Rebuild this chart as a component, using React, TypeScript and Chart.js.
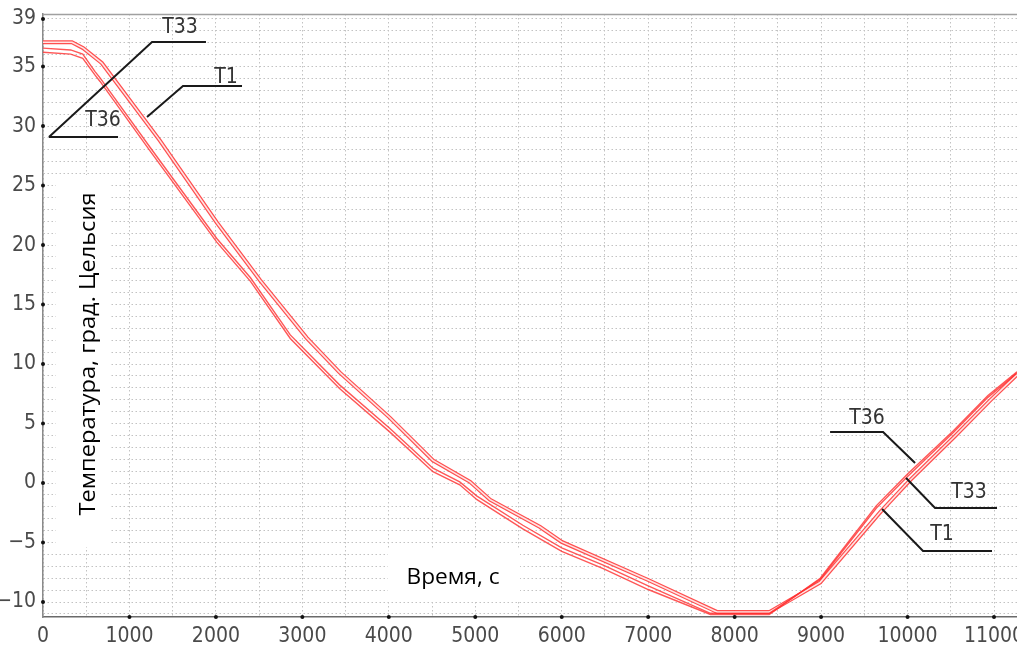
import React, { useEffect, useRef } from "react";
import { Chart, registerables } from "chart.js";

Chart.register(...registerables);

// ---- axis ranges / ticks ----
const xMin = 0;
const xMax = 11266;
const yMin = -11.26;
const yMax = 39.42;
const xLabelValues = [1000, 2000, 3000, 4000, 5000, 6000, 7000, 8000, 9000, 10000, 11000, 0];
const yLabelValues = [-10, -5, 0, 5, 10, 15, 20, 25, 30, 35, 39];

// ---- series (time, s / temperature, °C) ----
const t33Time = [0, 320, 460, 600, 660, 1240, 2010, 2400, 2860, 3430, 4010, 4510, 4820, 5020, 5550, 6000, 6480, 7000, 7720, 8400, 8990, 9640, 10000, 10530, 10930, 11266];
const t33Temp = [36.55, 36.4, 36.05, 34.6, 34.05, 28.2, 20.55, 17.25, 12.45, 8.25, 4.6, 1.25, 0.1, -1.1, -3.55, -5.45, -6.9, -8.65, -10.95, -10.95, -8.1, -2.1, 0.55, 4.25, 7.2, 9.25];

const t36Time = [0, 320, 460, 600, 660, 1240, 2010, 2400, 2860, 3430, 4010, 4510, 4820, 5020, 5550, 6000, 6480, 7000, 7720, 8400, 8990, 9640, 10000, 10530, 10930, 11266];
const t36Temp = [36.2, 36.05, 35.7, 34.3, 33.75, 27.9, 20.25, 16.95, 12.15, 7.95, 4.3, 0.95, -0.15, -1.4, -3.85, -5.75, -7.2, -8.95, -11.05, -11.05, -8.0, -1.9, 0.75, 4.4, 7.35, 9.35];

const t1Time = [0, 335, 465, 680, 1350, 2010, 2510, 3050, 3430, 4010, 4510, 4940, 5170, 5750, 6000, 7000, 7800, 8400, 8990, 9690, 10030, 10550, 10950, 11266];
const t1Temp = [37.05, 37.05, 36.55, 35.3, 28.8, 21.9, 17.05, 12.2, 9.3, 5.5, 1.9, 0.1, -1.4, -3.7, -4.95, -8.15, -10.85, -10.85, -8.35, -2.4, 0.25, 3.95, 6.9, 9.1];

// ---- texts ----
const yTitle = "Температура, град. Цельсия";
const xTitle = "Время, с";

// ---- callouts (leader lines) in data coordinates ----
const calloutNames = ["T33", "T36", "T1", "T36", "T33", "T1"];
const calloutPaths: number[][][] = [
  [[69, 29.08], [1261, 37.06], [1885, 37.06]],
  [[69, 29.08], [868, 29.08]],
  [[1203, 30.76], [1619, 33.36], [2302, 33.36]],
  [[9104, 4.29], [9717, 4.29], [10087, 1.68]],
  [[9983, 0.42], [10318, -2.1], [11035, -2.1]],
  [[9705, -2.18], [10179, -5.71], [10977, -5.71]],
];
const calloutLabelAt: number[][] = [
  [1585, 38.3],
  [694, 30.5],
  [2117, 34.1],
  [9532, 5.38],
  [10711, -0.76],
  [10399, -4.29],
];

const toPoints = (xs: number[], ys: number[]) => xs.map((x, i) => ({ x, y: ys[i] }));

const NARROW = "'Liberation Sans Narrow', 'DejaVu Sans Condensed', sans-serif";
const TITLE_FONT = "'Open Sans', 'Noto Sans', sans-serif";

const decorPlugin = {
  id: "decor",
  beforeDatasetsDraw(chart: any) {
    const { ctx, chartArea } = chart;
    ctx.save();
    ctx.strokeStyle = "#a0a0a0";
    ctx.lineWidth = 1.5;
    ctx.beginPath();
    ctx.moveTo(chartArea.left, chartArea.top + 0.5);
    ctx.lineTo(chartArea.right, chartArea.top + 0.5);
    ctx.stroke();
    ctx.restore();
  },
  afterDraw(chart: any) {
    const { ctx, chartArea, scales } = chart;
    const xs = scales.x;
    const ys = scales.y;
    ctx.save();
    // tick dots
    ctx.fillStyle = "#111";
    yLabelValues.forEach((v) => {
      ctx.beginPath();
      ctx.arc(chartArea.left, ys.getPixelForValue(v), 2, 0, Math.PI * 2);
      ctx.fill();
    });
    xLabelValues.forEach((v) => {
      if (v === 0) return;
      ctx.beginPath();
      ctx.arc(xs.getPixelForValue(v), chartArea.bottom, 2, 0, Math.PI * 2);
      ctx.fill();
    });

    // white boxes and axis titles
    ctx.fillStyle = "#ffffff";
    ctx.fillRect(56, 175, 54, 372);
    ctx.fillRect(388, 548, 132, 52);
    ctx.fillStyle = "#000";
    ctx.textAlign = "center";
    ctx.textBaseline = "middle";
    ctx.font = `22px ${TITLE_FONT}`;
    ctx.save();
    ctx.translate(453, 578);
    const wx = ctx.measureText(xTitle).width;
    ctx.scale(93 / wx, 1);
    ctx.fillText(xTitle, 0, 0);
    ctx.restore();
    ctx.save();
    ctx.translate(89, 354);
    ctx.rotate(-Math.PI / 2);
    const wy = ctx.measureText(yTitle).width;
    ctx.scale(323 / wy, 1);
    ctx.fillText(yTitle, 0, 0);
    ctx.restore();

    // callouts
    ctx.strokeStyle = "#1a1a1a";
    ctx.lineWidth = 2;
    calloutPaths.forEach((path) => {
      ctx.beginPath();
      path.forEach(([x, y], i) => {
        const px = xs.getPixelForValue(x);
        const py = ys.getPixelForValue(y);
        if (i === 0) ctx.moveTo(px, py);
        else ctx.lineTo(px, py);
      });
      ctx.stroke();
    });
    ctx.fillStyle = "#333";
    ctx.font = `21px ${NARROW}`;
    ctx.textAlign = "center";
    ctx.textBaseline = "middle";
    calloutNames.forEach((name, i) => {
      const [x, y] = calloutLabelAt[i];
      ctx.fillText(name, xs.getPixelForValue(x), ys.getPixelForValue(y));
    });
    ctx.restore();
  },
};

export default function App() {
  const ref = useRef<HTMLCanvasElement | null>(null);

  useEffect(() => {
    if (!ref.current) return;
    const lower = "rgba(255, 45, 45, 0.8)";
    const gridColor = "#c2c2c2";
    const chart = new Chart(ref.current, {
      type: "line",
      data: {
        datasets: [
          { label: "T33", data: toPoints(t33Time, t33Temp), borderColor: lower, borderWidth: 1.4, pointRadius: 0, tension: 0 },
          { label: "T36", data: toPoints(t36Time, t36Temp), borderColor: lower, borderWidth: 1.4, pointRadius: 0, tension: 0 },
          { label: "T1 (inner)", data: toPoints(t1Time, t1Temp), borderColor: "#ffe4e4", borderWidth: 1.6, pointRadius: 0, tension: 0 },
          { label: "T1", data: toPoints(t1Time, t1Temp), borderColor: "rgba(255, 60, 60, 0.9)", borderWidth: 4, pointRadius: 0, tension: 0 },
        ],
      },
      options: {
        animation: false,
        responsive: false,
        parsing: false as any,
        layout: { padding: { top: 14, right: 0, left: 0, bottom: 0 } },
        plugins: { legend: { display: false }, tooltip: { enabled: false } },
        scales: {
          x: {
            type: "linear",
            min: xMin,
            max: xMax,
            afterBuildTicks: (scale: any) => {
              const t = [];
              for (let v = 0; v <= 11000; v += 500) t.push({ value: v });
              scale.ticks = t;
            },
            afterFit: (scale: any) => {
              scale.height = 28;
              scale.paddingLeft = 0;
              scale.paddingRight = 0;
            },
            ticks: {
              autoSkip: false,
              maxRotation: 0,
              padding: 7,
              color: "#4a4a4a",
              font: { family: NARROW, size: 21 },
              callback: (v: any) => (xLabelValues.includes(Number(v)) ? String(v) : ""),
            },
            grid: { color: gridColor, lineWidth: 1, drawTicks: false },
            border: { display: true, color: "#6a6a6a", width: 1.5, dash: [1.5, 2.5] },
          },
          y: {
            type: "linear",
            min: yMin,
            max: yMax,
            afterBuildTicks: (scale: any) => {
              const t = [];
              for (let v = -11; v <= 39; v += 1) t.push({ value: v });
              scale.ticks = t;
            },
            afterFit: (scale: any) => {
              scale.width = 43;
              scale.paddingTop = 0;
              scale.paddingBottom = 0;
            },
            ticks: {
              autoSkip: false,
              padding: 7,
              color: "#4a4a4a",
              font: { family: NARROW, size: 21 },
              callback: (v: any) => {
                const n = Number(v);
                if (!yLabelValues.includes(n)) return "";
                return n < 0 ? "\u2212" + Math.abs(n) : String(n);
              },
            },
            grid: { color: gridColor, lineWidth: 1, drawTicks: false },
            border: { display: true, color: "#8a8a8a", width: 1.5, dash: [1.5, 2.5] },
          },
        },
      },
      plugins: [decorPlugin],
    });
    return () => chart.destroy();
  }, []);

  return (
    <div style={{ position: "absolute", left: 0, top: 0, width: 1017, height: 645, background: "#fff" }}>
      <canvas ref={ref} width={1017} height={645} style={{ display: "block" }} />
    </div>
  );
}
